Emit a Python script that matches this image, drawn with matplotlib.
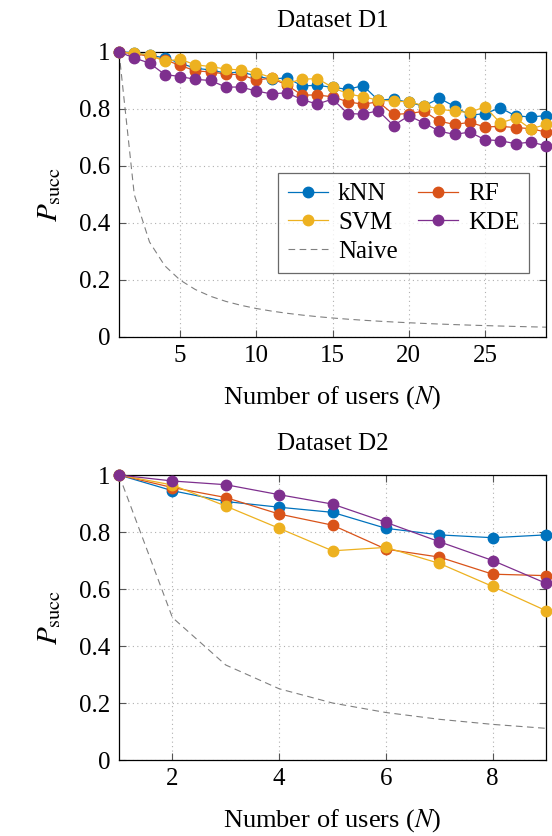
import matplotlib
matplotlib.use("Agg")
import matplotlib.pyplot as plt

plt.rcParams["font.family"] = "Liberation Serif"
plt.rcParams["mathtext.fontset"] = "stix"

# Dataset D1
users_d1 = list(range(1, 30))
knn_d1 = [1.0, 0.998, 0.988, 0.98, 0.961, 0.943, 0.937, 0.926, 0.93, 0.916,
          0.904, 0.91, 0.881, 0.883, 0.876, 0.869, 0.882, 0.831, 0.835, 0.823,
          0.81, 0.838, 0.809, 0.778, 0.784, 0.804, 0.776, 0.772, 0.777]
rf_d1 = [1.0, 0.994, 0.985, 0.973, 0.953, 0.934, 0.93, 0.923, 0.92, 0.902,
         0.908, 0.884, 0.849, 0.849, 0.843, 0.825, 0.817, 0.825, 0.781, 0.784,
         0.792, 0.757, 0.746, 0.753, 0.737, 0.739, 0.735, 0.731, 0.719]
svm_d1 = [1.0, 0.996, 0.99, 0.967, 0.975, 0.955, 0.949, 0.94, 0.937, 0.928,
          0.91, 0.89, 0.904, 0.907, 0.876, 0.853, 0.843, 0.831, 0.828, 0.825,
          0.812, 0.80, 0.792, 0.788, 0.808, 0.751, 0.768, 0.73, 0.746]
kde_d1 = [1.0, 0.979, 0.961, 0.921, 0.914, 0.904, 0.90, 0.877, 0.877, 0.863,
          0.853, 0.857, 0.833, 0.817, 0.835, 0.784, 0.782, 0.794, 0.742, 0.776,
          0.751, 0.722, 0.711, 0.719, 0.692, 0.689, 0.678, 0.684, 0.671]

# Dataset D2
users_d2 = list(range(1, 10))
knn_d2 = [1.0, 0.945, 0.907, 0.887, 0.869, 0.813, 0.79, 0.78, 0.79]
rf_d2 = [1.0, 0.956, 0.921, 0.863, 0.824, 0.74, 0.712, 0.652, 0.647]
svm_d2 = [1.0, 0.965, 0.891, 0.813, 0.734, 0.746, 0.69, 0.609, 0.524]
kde_d2 = [1.0, 0.979, 0.966, 0.931, 0.898, 0.834, 0.766, 0.70, 0.62]

method_names = ["kNN", "RF", "SVM", "KDE"]
colours = ["#0072BD", "#D95319", "#EDB120", "#7E2F8E"]

fig = plt.figure(figsize=(5.52, 8.36), dpi=100)
ax1 = fig.add_axes([0.2156, 0.5969, 0.7736, 0.3409])
ax2 = fig.add_axes([0.2156, 0.0909, 0.7736, 0.3409])


def draw_panel(ax, users, series, title, xticks):
    for vals, name, col in zip(series, method_names, colours):
        ax.plot(users, vals, color=col, marker="o", markersize=7.5,
                linewidth=0.9, label=name, clip_on=False, zorder=3)
    naive = [1.0 / n for n in users]
    ax.plot(users, naive, color="#808080", linestyle=(0, (6, 4)),
            linewidth=0.8, label="Naive")
    ax.set_xlim(users[0], users[-1])
    ax.set_ylim(0, 1)
    ax.set_xticks(xticks)
    ax.set_yticks([0, 0.2, 0.4, 0.6, 0.8, 1])
    ax.set_yticklabels(["0", "0.2", "0.4", "0.6", "0.8", "1"])
    ax.grid(True, linestyle=(0, (1, 3)), color="#b0b0b0", linewidth=0.8)
    ax.tick_params(direction="in", top=True, right=True, labelsize=18,
                   length=5, width=0.8, pad=6, color="#555555")
    for sp in ax.spines.values():
        sp.set_linewidth(0.9)
    ax.set_title(title, fontsize=18, pad=18)
    ax.set_xlabel("Number of users ($N$)", fontsize=19, labelpad=12)
    ax.set_ylabel(r"$P_{\mathrm{succ}}$", fontsize=21, labelpad=12)


draw_panel(ax1, users_d1, [knn_d1, rf_d1, svm_d1, kde_d1], "Dataset D1",
           [5, 10, 15, 20, 25])
draw_panel(ax2, users_d2, [knn_d2, rf_d2, svm_d2, kde_d2], "Dataset D2",
           [2, 4, 6, 8])

handles, labels = ax1.get_legend_handles_labels()
# column 1: kNN, SVM, Naive; column 2: RF, KDE
order = [0, 2, 4, 1, 3]
leg = ax1.legend([handles[i] for i in order], [labels[i] for i in order],
                 ncol=2, loc="upper right", bbox_to_anchor=(0.99, 0.62),
                 fontsize=18, frameon=True, fancybox=False, edgecolor="#444444",
                 handlelength=1.6, handletextpad=0.4, columnspacing=0.8,
                 labelspacing=0.25, borderpad=0.4)
leg.get_frame().set_linewidth(0.9)
leg.set_zorder(5)

plt.savefig("out.png", dpi=100)
plt.close()
